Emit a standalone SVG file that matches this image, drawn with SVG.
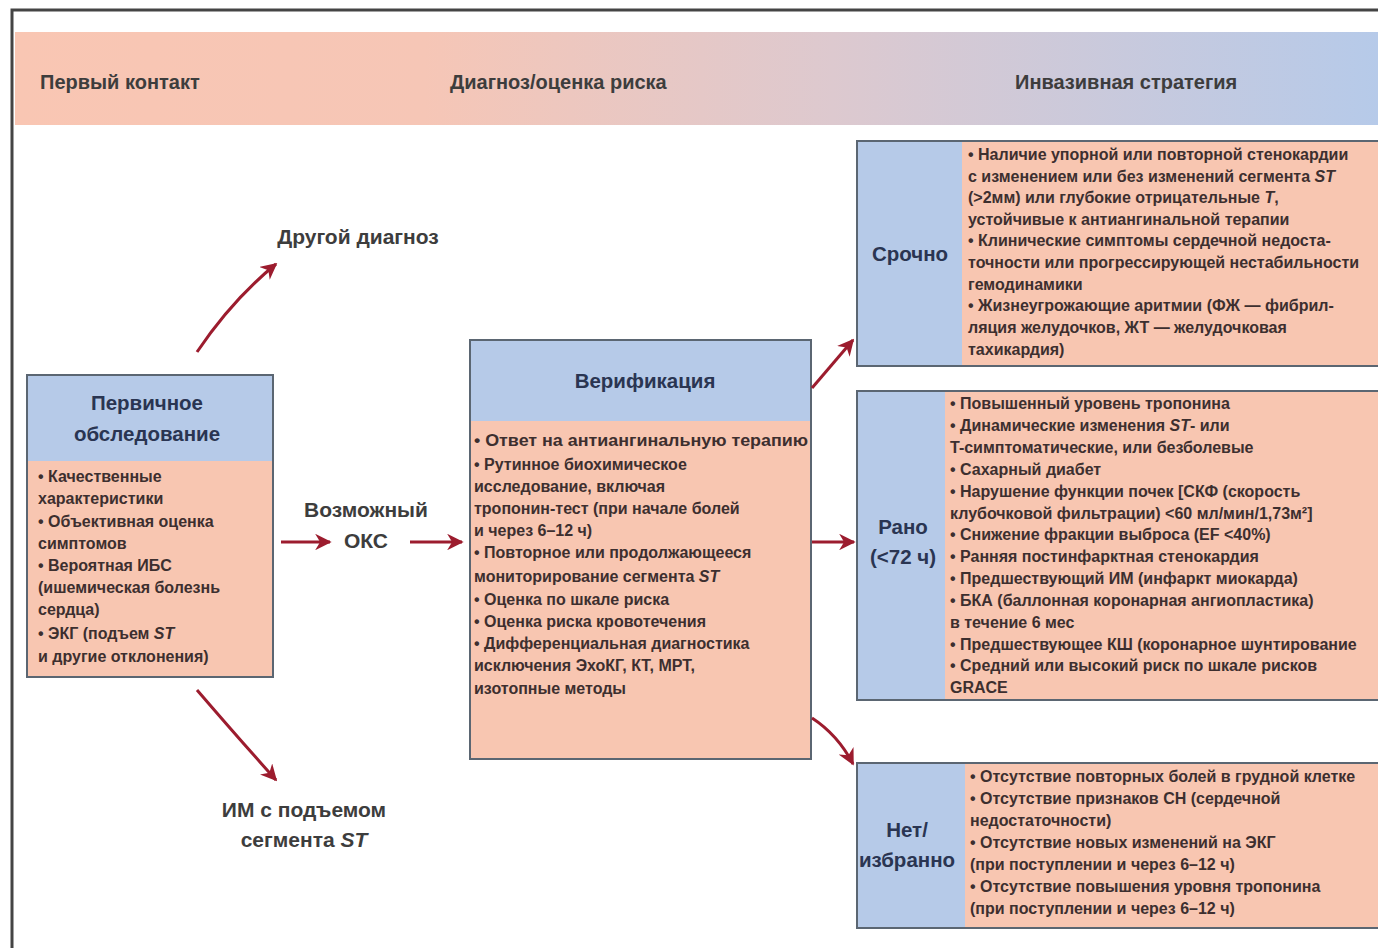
<svg xmlns="http://www.w3.org/2000/svg" width="1378" height="948" viewBox="0 0 1378 948">
<defs>
<linearGradient id="hdr" x1="0" y1="0" x2="1" y2="0">
<stop offset="0" stop-color="#f9c6b3"/>
<stop offset="0.3" stop-color="#f6c6b6"/>
<stop offset="0.6" stop-color="#ddc9cf"/>
<stop offset="1" stop-color="#b6cae9"/>
</linearGradient>
<marker id="ah" viewBox="0 0 10 10" refX="9" refY="5" markerWidth="5.5" markerHeight="5.5" orient="auto" markerUnits="strokeWidth">
<path d="M0,0 L10,5 L0,10 L3,5 z" fill="#9c1c2e"/>
</marker>
<style>
.t{font-family:"Liberation Sans",Arial,sans-serif;fill:#3d2f2f;font-weight:bold}
.h{font-size:20px;fill:#3d3d3d}
.ttl{font-size:20.5px;fill:#2a3552;text-anchor:middle}
.b{font-size:16px}
.s{font-size:16px}
.lbl{font-size:21px;fill:#3d3d3d;text-anchor:middle}
.blue{fill:#b6cae8}
.pink{fill:#f8c6b1}
.bd{fill:none;stroke:#5b6672;stroke-width:2}
.ar{fill:none;stroke:#9c1c2e;stroke-width:3;marker-end:url(#ah)}
</style>
</defs>
<rect width="1378" height="948" fill="#ffffff"/>
<g id="frame">
<path d="M12,948 V10 H1378" fill="none" stroke="#444" stroke-width="3"/>
</g>
<g id="header">
<rect x="15" y="32" width="1363" height="93" fill="url(#hdr)"/>
<text class="t h" x="40" y="89">Первый контакт</text>
<text class="t h" x="450" y="89">Диагноз/оценка риска</text>
<text class="t h" x="1015" y="89">Инвазивная стратегия</text>
</g>
<g id="primary">
<rect class="blue" x="27" y="375" width="246" height="86"/>
<rect class="pink" x="27" y="461" width="246" height="216"/>
<rect class="bd" x="27" y="375" width="246" height="302"/>
<text class="t ttl" x="147" y="410">Первичное</text>
<text class="t ttl" x="147" y="441">обследование</text>
<text class="t b" x="38" y="482">• Качественные</text>
<text class="t b" x="38" y="504">характеристики</text>
<text class="t b" x="38" y="527">• Объективная оценка</text>
<text class="t b" x="38" y="549">симптомов</text>
<text class="t b" x="38" y="571">• Вероятная ИБС</text>
<text class="t b" x="38" y="593">(ишемическая болезнь</text>
<text class="t b" x="38" y="615">сердца)</text>
<text class="t b" x="38" y="639">• ЭКГ (подъем <tspan font-style="italic">ST</tspan></text>
<text class="t b" x="38" y="662">и другие отклонения)</text>
</g>
<g id="other">
<text class="t lbl" x="358" y="244">Другой диагноз</text>
</g>
<g id="possible">
<text class="t lbl" x="366" y="517">Возможный</text>
<text class="t lbl" x="366" y="548">ОКС</text>
</g>
<g id="stemi">
<text class="t lbl" x="304" y="817">ИМ с подъемом</text>
<text class="t lbl" x="304" y="847">сегмента <tspan font-style="italic">ST</tspan></text>
</g>
<g id="verification">
<rect class="blue" x="470" y="340" width="341" height="81"/>
<rect class="pink" x="470" y="421" width="341" height="338"/>
<rect class="bd" x="470" y="340" width="341" height="419"/>
<text class="t ttl" x="645" y="388">Верификация</text>
<text class="t b" x="474" y="446" textLength="334" lengthAdjust="spacingAndGlyphs">• Ответ на антиангинальную терапию</text>
<text class="t b" x="474" y="470">•  Рутинное биохимическое</text>
<text class="t b" x="474" y="492">исследование, включая</text>
<text class="t b" x="474" y="514">тропонин-тест (при начале болей</text>
<text class="t b" x="474" y="536">и через 6–12 ч)</text>
<text class="t b" x="474" y="558">• Повторное или продолжающееся</text>
<text class="t b" x="474" y="582">мониторирование сегмента <tspan font-style="italic">ST</tspan></text>
<text class="t b" x="474" y="605">• Оценка по шкале риска</text>
<text class="t b" x="474" y="627">• Оценка риска кровотечения</text>
<text class="t b" x="474" y="649">• Дифференциальная диагностика</text>
<text class="t b" x="474" y="671">исключения ЭхоКГ, КТ, МРТ,</text>
<text class="t b" x="474" y="694">изотопные методы</text>
</g>
<g id="urgent">
<rect class="blue" x="857" y="141" width="105" height="225"/>
<rect class="pink" x="962" y="141" width="416" height="225"/>
<rect class="bd" x="857" y="141" width="530" height="225"/>
<text class="t ttl" x="910" y="261">Срочно</text>
<text class="t s" x="968" y="160">• Наличие упорной или повторной стенокардии</text>
<text class="t s" x="968" y="182">с изменением или без изменений сегмента <tspan font-style="italic">ST</tspan></text>
<text class="t s" x="968" y="203">(&gt;2мм) или глубокие отрицательные <tspan font-style="italic">T</tspan>,</text>
<text class="t s" x="968" y="225">устойчивые к антиангинальной терапии</text>
<text class="t s" x="968" y="246">• Клинические симптомы сердечной недоста-</text>
<text class="t s" x="968" y="268">точности или прогрессирующей нестабильности</text>
<text class="t s" x="968" y="290">гемодинамики</text>
<text class="t s" x="968" y="311">• Жизнеугрожающие аритмии (ФЖ — фибрил-</text>
<text class="t s" x="968" y="333">ляция желудочков, ЖТ — желудочковая</text>
<text class="t s" x="968" y="355">тахикардия)</text>
</g>
<g id="early">
<rect class="blue" x="857" y="391" width="88" height="309"/>
<rect class="pink" x="945" y="391" width="433" height="309"/>
<rect class="bd" x="857" y="391" width="530" height="309"/>
<text class="t ttl" x="903" y="534">Рано</text>
<text class="t ttl" x="903" y="564">(&lt;72 ч)</text>
<text class="t s" x="950" y="409">• Повышенный уровень тропонина</text>
<text class="t s" x="950" y="431">• Динамические изменения <tspan font-style="italic">ST</tspan>-  или</text>
<text class="t s" x="950" y="453">T-симптоматические, или безболевые</text>
<text class="t s" x="950" y="475">• Сахарный диабет</text>
<text class="t s" x="950" y="497">• Нарушение функции почек [СКФ (скорость</text>
<text class="t s" x="950" y="519">клубочковой фильтрации) &lt;60 мл/мин/1,73м²]</text>
<text class="t s" x="950" y="540">• Снижение фракции выброса (EF &lt;40%)</text>
<text class="t s" x="950" y="562">• Ранняя постинфарктная стенокардия</text>
<text class="t s" x="950" y="584">• Предшествующий ИМ (инфаркт миокарда)</text>
<text class="t s" x="950" y="606">• БКА (баллонная коронарная ангиопластика)</text>
<text class="t s" x="950" y="628">в течение 6 мес</text>
<text class="t s" x="950" y="650">• Предшествующее КШ (коронарное шунтирование</text>
<text class="t s" x="950" y="671">• Средний или высокий риск по шкале рисков</text>
<text class="t s" x="950" y="693">GRACE</text>
</g>
<g id="none">
<rect class="blue" x="857" y="763" width="108" height="165"/>
<rect class="pink" x="965" y="763" width="413" height="165"/>
<rect class="bd" x="857" y="763" width="530" height="165"/>
<text class="t ttl" x="907" y="837">Нет/</text>
<text class="t ttl" x="907" y="867">избранно</text>
<text class="t s" x="970" y="782">• Отсутствие повторных болей в грудной клетке</text>
<text class="t s" x="970" y="804">• Отсутствие признаков СН (сердечной</text>
<text class="t s" x="970" y="826">недостаточности)</text>
<text class="t s" x="970" y="848">• Отсутствие новых изменений на ЭКГ</text>
<text class="t s" x="970" y="870">(при поступлении и через 6–12 ч)</text>
<text class="t s" x="970" y="892">• Отсутствие повышения уровня тропонина</text>
<text class="t s" x="970" y="914">(при поступлении и через 6–12 ч)</text>
</g>
<g id="connectors">
<path class="ar" d="M197,352 Q232,300 276,264"/>
<path class="ar" d="M197,690 Q240,740 276,780"/>
<path class="ar" d="M281,542 H330"/>
<path class="ar" d="M410,542 H462"/>
<path class="ar" d="M812,388 L853,340"/>
<path class="ar" d="M812,542 H854"/>
<path class="ar" d="M812,718 Q838,735 853,764"/>
</g>
</svg>
